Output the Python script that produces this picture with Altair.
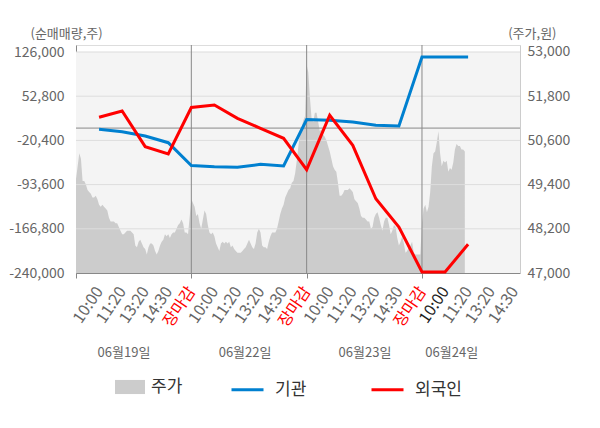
import json
import altair as alt
import pandas as pd

# ---------------- data ----------------
time_labels = ["10:00", "11:20", "13:20", "14:30", "장마감"]
date_labels = ["06월19일", "06월22일", "06월23일", "06월24일"]
date_label_pos = [2.08, 7.33, 12.53, 16.29]

# line sample positions (category index on the x axis)
point_pos = list(range(1, 18))
inst = [-2000, -6000, -13100, -24200, -62000, -64000, -64900, -60000, -62800,
        14200, 12900, 10100, 4600, 3500, 117700, 117700, 117700]
foreign = [17900, 28300, -30800, -42900, 34100, 38200, 16200, -400, -16900,
           -68900, 21200, -28500, -117000, -163800, -238300, -238300, -192500]

price_day1 = [49550, 49900, 50250, 50100, 49500, 49500, 49400, 49250, 49200, 49150,
              49050, 49050, 49100, 49000, 48850, 48800, 48850, 48800, 48750, 48700,
              48500, 48400, 48400, 48400, 48350, 48350, 48250, 48150, 48050, 48050,
              48100, 48150, 48150, 48150, 48100, 48050, 47750, 47700, 47850, 47900,
              47800, 47700, 47650, 47500, 47700, 47800, 47800, 47750, 47600, 47500,
              47600, 47750, 47850, 47900, 48050, 48000, 48050, 47950, 48050, 48100,
              48100, 48200, 48300, 48350, 48450, 48350, 48100, 48100, 48050]
price_day2 = [49000, 48900, 48800, 48550, 48600, 48350, 48200, 48450, 48700, 48600,
              48300, 48100, 48050, 48100, 48000, 47800, 47700, 47600, 47800, 47850,
              47800, 47850, 47800, 47850, 47700, 47750, 47650, 47600, 47550, 47550,
              47550, 47600, 47650, 47700, 47800, 47900, 47800, 47700, 47650, 47800,
              48100, 48200, 48100, 47750, 47700, 47700, 47650, 47850, 48000, 48100,
              48100, 48100, 48200, 48400, 48600, 48750, 48850, 49050, 49150, 49250,
              49300, 49450, 49500, 49700, 50050, 50450, 50800, 50950, 51150, 51250]
price_day3 = [52650, 52450, 51750, 51200, 51100, 51350, 51350, 51100, 50850, 50900,
              50750, 50700, 50600, 50450, 50300, 50100, 49900, 49800, 49750, 49450,
              49100, 49100, 49150, 49250, 49250, 49250, 49300, 49250, 49200, 49000,
              48950, 48900, 48750, 48550, 48500, 48500, 48450, 48400, 48400, 48200,
              48250, 48500, 48600, 48650, 48500, 48300, 48150, 48400, 48500, 48500,
              48300, 48050, 48150, 48300, 48250, 47950, 47750, 47850, 48000, 47800,
              47550, 47600, 47700, 47750, 47850, 47550, 47500, 47500, 47500, 47500]
price_day4 = [48350, 48750, 48850, 48650, 48800, 49200, 49900, 50250, 50300, 50550,
              50850, 50250, 49900, 50050, 50000, 50050, 49750, 49850, 49800, 50000,
              50350, 50500, 50450, 50450, 50350, 50350, 50300]

left_ticks = [-240000, -166800, -93600, -20400, 52800, 126000]
right_ticks = [47000, 48200, 49400, 50600, 51800, 53000]
day_bounds = [5, 10, 15]

SAMPLES_PER_DAY = 70
DAY_UNITS = 5

# ---------------- tables ----------------
rows = []
for d, vals in enumerate([price_day1, price_day2, price_day3, price_day4]):
    for k, v in enumerate(vals):
        rows.append({"x": d * DAY_UNITS + DAY_UNITS * k / SAMPLES_PER_DAY,
                     "price": v, "series": "주가"})
price_df = pd.DataFrame(rows)

line_rows = []
for name, vals in [("기관", inst), ("외국인", foreign)]:
    for p, v in zip(point_pos, vals):
        line_rows.append({"x": p, "value": v, "series": name})
line_df = pd.DataFrame(line_rows)

date_df = pd.DataFrame({"x": date_label_pos, "label": date_labels})
grid_df = pd.DataFrame({"g": right_ticks[1:]})
bound_df = pd.DataFrame({"b": day_bounds})
one_df = pd.DataFrame({"o": [0]})

tick_text = [""] + [time_labels[(p - 1) % 5] for p in range(1, 20)]
label_expr = json.dumps(tick_text, ensure_ascii=False) + "[datum.value]"

# ---------------- scales / axes ----------------
X_MAX = 19.25
x_scale = alt.Scale(domain=[0, X_MAX], nice=False, zero=False)
left_scale = alt.Scale(domain=[-240000, 137600], nice=False, zero=False)
right_scale = alt.Scale(domain=[47000, 53190], nice=False, zero=False)

x_axis = alt.Axis(
    values=list(range(20)), labelExpr=label_expr, title=None,
    labelAngle=-56, labelAlign="right", labelBaseline="middle",
    labelFontSize=16, labelPadding=10, labelOverlap=False, labelBound=False,
    labelFlush=False, grid=False, tickSize=5, domainColor="#888888",
    labelColor={"condition": [{"test": "datum.value % 5 === 0 && datum.value > 0", "value": "#ff0000"},
                              {"test": "datum.value === 16", "value": "#222222"}],
                "value": "#666666"},
    tickColor={"condition": {"test": "datum.value % 5 === 0", "value": "#888888"},
               "value": "rgba(0,0,0,0)"},
)
left_axis = alt.Axis(
    orient="left", values=left_ticks, grid=False, ticks=False,
    labelExpr="replace(format(datum.value, ','), '\u2212', '-')",
    labelFontSize=14, labelColor="#666666", labelPadding=12,
    domainColor="#888888",
    title="(순매매량,주)", titleAngle=0, titleX=-46, titleY=-12,
    titleAlign="left", titleBaseline="middle", titleFontSize=13,
    titleFontWeight="normal", titleColor="#666666",
)
right_axis = alt.Axis(
    orient="right", values=right_ticks, grid=False, ticks=False,
    labelExpr="format(datum.value, ',')",
    labelFontSize=14, labelColor="#666666", labelPadding=7,
    domainColor="#cccccc",
    title="(주가,원)", titleAngle=0, titleX=36, titleY=-12,
    titleAlign="right", titleBaseline="middle", titleFontSize=13,
    titleFontWeight="normal", titleColor="#666666",
)

# ---------------- right-scale group ----------------
bg = alt.Chart(one_df).mark_rect(color="#f4f4f4").encode(
    x=alt.XDatum(0, scale=x_scale, axis=x_axis),
    x2=alt.X2Datum(X_MAX),
    y=alt.YDatum(47000, scale=right_scale, axis=right_axis),
    y2=alt.Y2Datum(53000),
)
area = alt.Chart(price_df).mark_area(opacity=1).encode(
    x=alt.X("x:Q", scale=x_scale, axis=x_axis),
    y=alt.Y("price:Q", scale=right_scale, axis=right_axis),
    y2=alt.Y2Datum(47000),
    fill=alt.Fill("series:N", scale=alt.Scale(domain=["주가"], range=["#cccccc"]),
                  legend=alt.Legend(orient="none", legendX=39, legendY=327,
                                    direction="horizontal", title=None,
                                    symbolType="M-1,-0.47H1V0.47H-1Z", symbolSize=900,
                                    symbolStrokeWidth=0, labelFontSize=17,
                                    labelColor="#333333", labelOffset=6)),
)
grid = alt.Chart(grid_df).mark_rule(color="#dddddd", strokeWidth=1).encode(
    y=alt.Y("g:Q", scale=right_scale, axis=right_axis),
)
right_group = alt.layer(bg, area, grid)

# ---------------- left-scale group ----------------
zero_rule = alt.Chart(one_df).mark_rule(color="#888888", strokeWidth=1).encode(
    y=alt.YDatum(0, scale=left_scale, axis=left_axis),
)
day_rules = alt.Chart(bound_df).mark_rule(color="#888888", strokeWidth=1).encode(
    x=alt.X("b:Q", scale=x_scale, axis=x_axis),
)
lines = alt.Chart(line_df).mark_line(strokeWidth=3).encode(
    x=alt.X("x:Q", scale=x_scale, axis=x_axis),
    y=alt.Y("value:Q", scale=left_scale, axis=left_axis),
    stroke=alt.Stroke("series:N",
                      scale=alt.Scale(domain=["기관", "외국인"], range=["#0080d0", "#ff0000"]),
                      legend=alt.Legend(orient="none", legendX=154, legendY=327,
                                        direction="horizontal", title=None,
                                        symbolType="stroke", symbolSize=1024,
                                        symbolStrokeWidth=3, labelFontSize=17,
                                        labelColor="#333333", labelOffset=10,
                                        columnPadding=58)),
)
date_text = alt.Chart(date_df).mark_text(
    dy=84, baseline="alphabetic", align="center", fontSize=13, color="#666666"
).encode(
    x=alt.X("x:Q", scale=x_scale, axis=x_axis),
    y=alt.YDatum(-240000, scale=left_scale, axis=left_axis),
    text="label:N",
)
left_group = alt.layer(zero_rule, day_rules, lines, date_text)

chart = alt.layer(right_group, left_group).resolve_scale(
    y="independent"
).properties(
    width=444, height=228,
    autosize=alt.AutoSizeParams(type="none"),
    padding={"left": 68, "top": 37, "right": 72, "bottom": 155},
).configure_view(stroke=None).configure(font="Noto Sans CJK KR")

chart.save("out.html", embed_options={"renderer": "svg", "actions": False})
